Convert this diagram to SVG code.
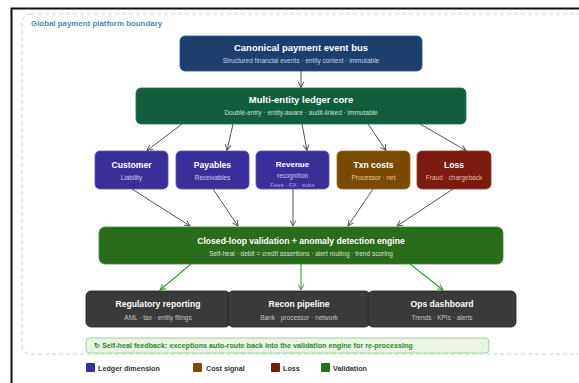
<svg xmlns="http://www.w3.org/2000/svg" width="579" height="383" viewBox="0 0 579 383">
<defs>
<style>
text{font-family:"Liberation Sans",Arial,sans-serif;text-anchor:middle}
.t{font-weight:bold;font-size:8.6px;fill:#fff}
.tb{font-weight:bold;font-size:9.5px;fill:#fff}
.s{font-size:6.5px}
.gl{stroke:#555;stroke-width:1;fill:none;marker-end:url(#ag)}
.gr{stroke:#3c9a36;stroke-width:1.1;fill:none;marker-end:url(#agr)}
.lg{font-size:7.2px;font-weight:bold;fill:#333;text-anchor:start}
</style>
<marker id="ag" viewBox="0 0 10 10" refX="9" refY="5" markerWidth="7" markerHeight="7" orient="auto" markerUnits="userSpaceOnUse"><path d="M1,1 L9,5 L1,9" fill="none" stroke="#555" stroke-width="1.4"/></marker>
<marker id="agr" viewBox="0 0 10 10" refX="9" refY="5" markerWidth="7" markerHeight="7" orient="auto" markerUnits="userSpaceOnUse"><path d="M1,1 L9,5 L1,9" fill="none" stroke="#3c9a36" stroke-width="1.4"/></marker>
</defs>
<rect width="579" height="383" fill="#fff"/>
<path d="M11.5,383 V8.5 H579" fill="none" stroke="#111" stroke-width="2"/>
<rect x="22" y="14" width="566" height="340" rx="9" fill="none" stroke="#b8d4f0" stroke-width="1" stroke-dasharray="4,3"/>
<text x="31" y="26" style="font-size:7.9px;font-weight:bold;fill:#4a88c8;text-anchor:start">Global payment platform boundary</text>

<g id="connectors">
<line class="gl" x1="301" y1="71" x2="301" y2="87.5"/>
<line class="gl" x1="182" y1="124" x2="147" y2="150.5"/>
<line class="gl" x1="233" y1="124" x2="227" y2="150.5"/>
<line class="gl" x1="302" y1="124" x2="307" y2="150.5"/>
<line class="gl" x1="368" y1="124" x2="386" y2="150.5"/>
<line class="gl" x1="420" y1="124" x2="466" y2="150.5"/>
<line class="gl" x1="132" y1="189" x2="190" y2="226"/>
<line class="gl" x1="213" y1="189" x2="238" y2="226"/>
<line class="gl" x1="293" y1="189" x2="293" y2="226"/>
<line class="gl" x1="373" y1="189" x2="348" y2="226"/>
<line class="gl" x1="453" y1="189" x2="397" y2="226"/>
<line class="gr" x1="191" y1="264" x2="160" y2="290"/>
<line class="gr" x1="301" y1="264" x2="301" y2="290"/>
<line class="gr" x1="410" y1="264" x2="443" y2="290"/>
</g>

<g id="bus">
<rect x="180" y="36" width="242" height="35" rx="5" fill="#1d3f6e" stroke="#2c5288" stroke-width="0.8"/>
<text class="tb" x="301" y="51">Canonical payment event bus</text>
<text class="s" x="301" y="63" fill="#c6d3e8">Structured financial events · entity context · immutable</text>
</g>
<g id="ledger">
<rect x="136" y="88" width="330" height="36" rx="5" fill="#135d3f" stroke="#1f7350" stroke-width="0.8"/>
<text class="tb" x="301" y="103">Multi-entity ledger core</text>
<text class="s" x="301" y="115" fill="#c4e0d2">Double-entry · entity-aware · audit-linked · immutable</text>
</g>
<g id="customer">
<rect x="95" y="151" width="73" height="38" rx="5" fill="#3a2f98" stroke="#5a50b8" stroke-width="0.8"/>
<text class="t" x="131.5" y="168">Customer</text>
<text class="s" x="131.5" y="180" fill="#cfcaf2">Liability</text>
</g>
<g id="payables">
<rect x="176" y="151" width="73" height="38" rx="5" fill="#3a2f98" stroke="#5a50b8" stroke-width="0.8"/>
<text class="t" x="212.5" y="168">Payables</text>
<text class="s" x="212.5" y="180" fill="#cfcaf2">Receivables</text>
</g>
<g id="revenue">
<rect x="256" y="151" width="73" height="38" rx="5" fill="#3a2f98" stroke="#5a50b8" stroke-width="0.8"/>
<text class="t" x="292.5" y="167" style="font-size:8px">Revenue</text>
<text class="s" x="292.5" y="177.5" fill="#cfcaf2" style="font-size:6.3px">recognition</text>
<text class="s" x="292.5" y="186.5" fill="#a9a2e0" style="font-size:6px">Fees · FX · subs</text>
</g>
<g id="txncosts">
<rect x="337" y="151" width="73" height="38" rx="5" fill="#7a4a00" stroke="#946a20" stroke-width="0.8"/>
<text class="t" x="373.5" y="168">Txn costs</text>
<text class="s" x="373.5" y="180" fill="#e8cf9c">Processor · net</text>
</g>
<g id="loss">
<rect x="417" y="151" width="74" height="38" rx="5" fill="#7b1a0e" stroke="#98382a" stroke-width="0.8"/>
<text class="t" x="454" y="168">Loss</text>
<text class="s" x="454" y="180" fill="#eab8ae">Fraud · chargeback</text>
</g>
<g id="validation">
<rect x="99" y="227" width="404" height="37" rx="6" fill="#2b6b1c" stroke="#3f8530" stroke-width="0.8"/>
<text class="t" x="301" y="244">Closed-loop validation + anomaly detection engine</text>
<text class="s" x="301" y="256" fill="#cfe6c6">Self-heal · debit = credit assertions · alert routing · trend scoring</text>
</g>
<g id="regulatory">
<rect x="86" y="291" width="144" height="36" rx="5" fill="#3a3a3a" stroke="#222" stroke-width="0.8"/>
<text class="t" x="158" y="307">Regulatory reporting</text>
<text class="s" x="158" y="320" fill="#c4c4c4">AML · tax · entity filings</text>
</g>
<g id="recon">
<rect x="228" y="291" width="142" height="36" rx="5" fill="#3a3a3a" stroke="#222" stroke-width="0.8"/>
<text class="t" x="299" y="307">Recon pipeline</text>
<text class="s" x="299" y="320" fill="#c4c4c4">Bank · processor · network</text>
</g>
<g id="opsdash">
<rect x="368" y="291" width="148" height="36" rx="5" fill="#3a3a3a" stroke="#222" stroke-width="0.8"/>
<text class="t" x="442" y="307">Ops dashboard</text>
<text class="s" x="442" y="320" fill="#c4c4c4">Trends · KPIs · alerts</text>
</g>
<g id="feedback">
<rect x="86" y="338" width="403" height="15" rx="4" fill="#e8f5e2" stroke="#98cc8c" stroke-width="0.9"/>
<text x="94" y="348.3" style="font-size:7.2px;font-weight:bold;fill:#2e8a2a;text-anchor:start">↻ Self-heal feedback: exceptions auto-route back into the validation engine for re-processing</text>
</g>
<g id="legend">
<rect x="86" y="363" width="9" height="9" rx="1" fill="#3a2f98"/>
<text class="lg" x="98" y="370.5">Ledger dimension</text>
<rect x="193" y="363" width="9" height="9" rx="1" fill="#7a4a00"/>
<text class="lg" x="206" y="370.5">Cost signal</text>
<rect x="271" y="363" width="9" height="9" rx="1" fill="#7b1a0e"/>
<text class="lg" x="283" y="370.5">Loss</text>
<rect x="321" y="363" width="9" height="9" rx="1" fill="#2b6b1c"/>
<text class="lg" x="333" y="370.5">Validation</text>
</g>
</svg>
